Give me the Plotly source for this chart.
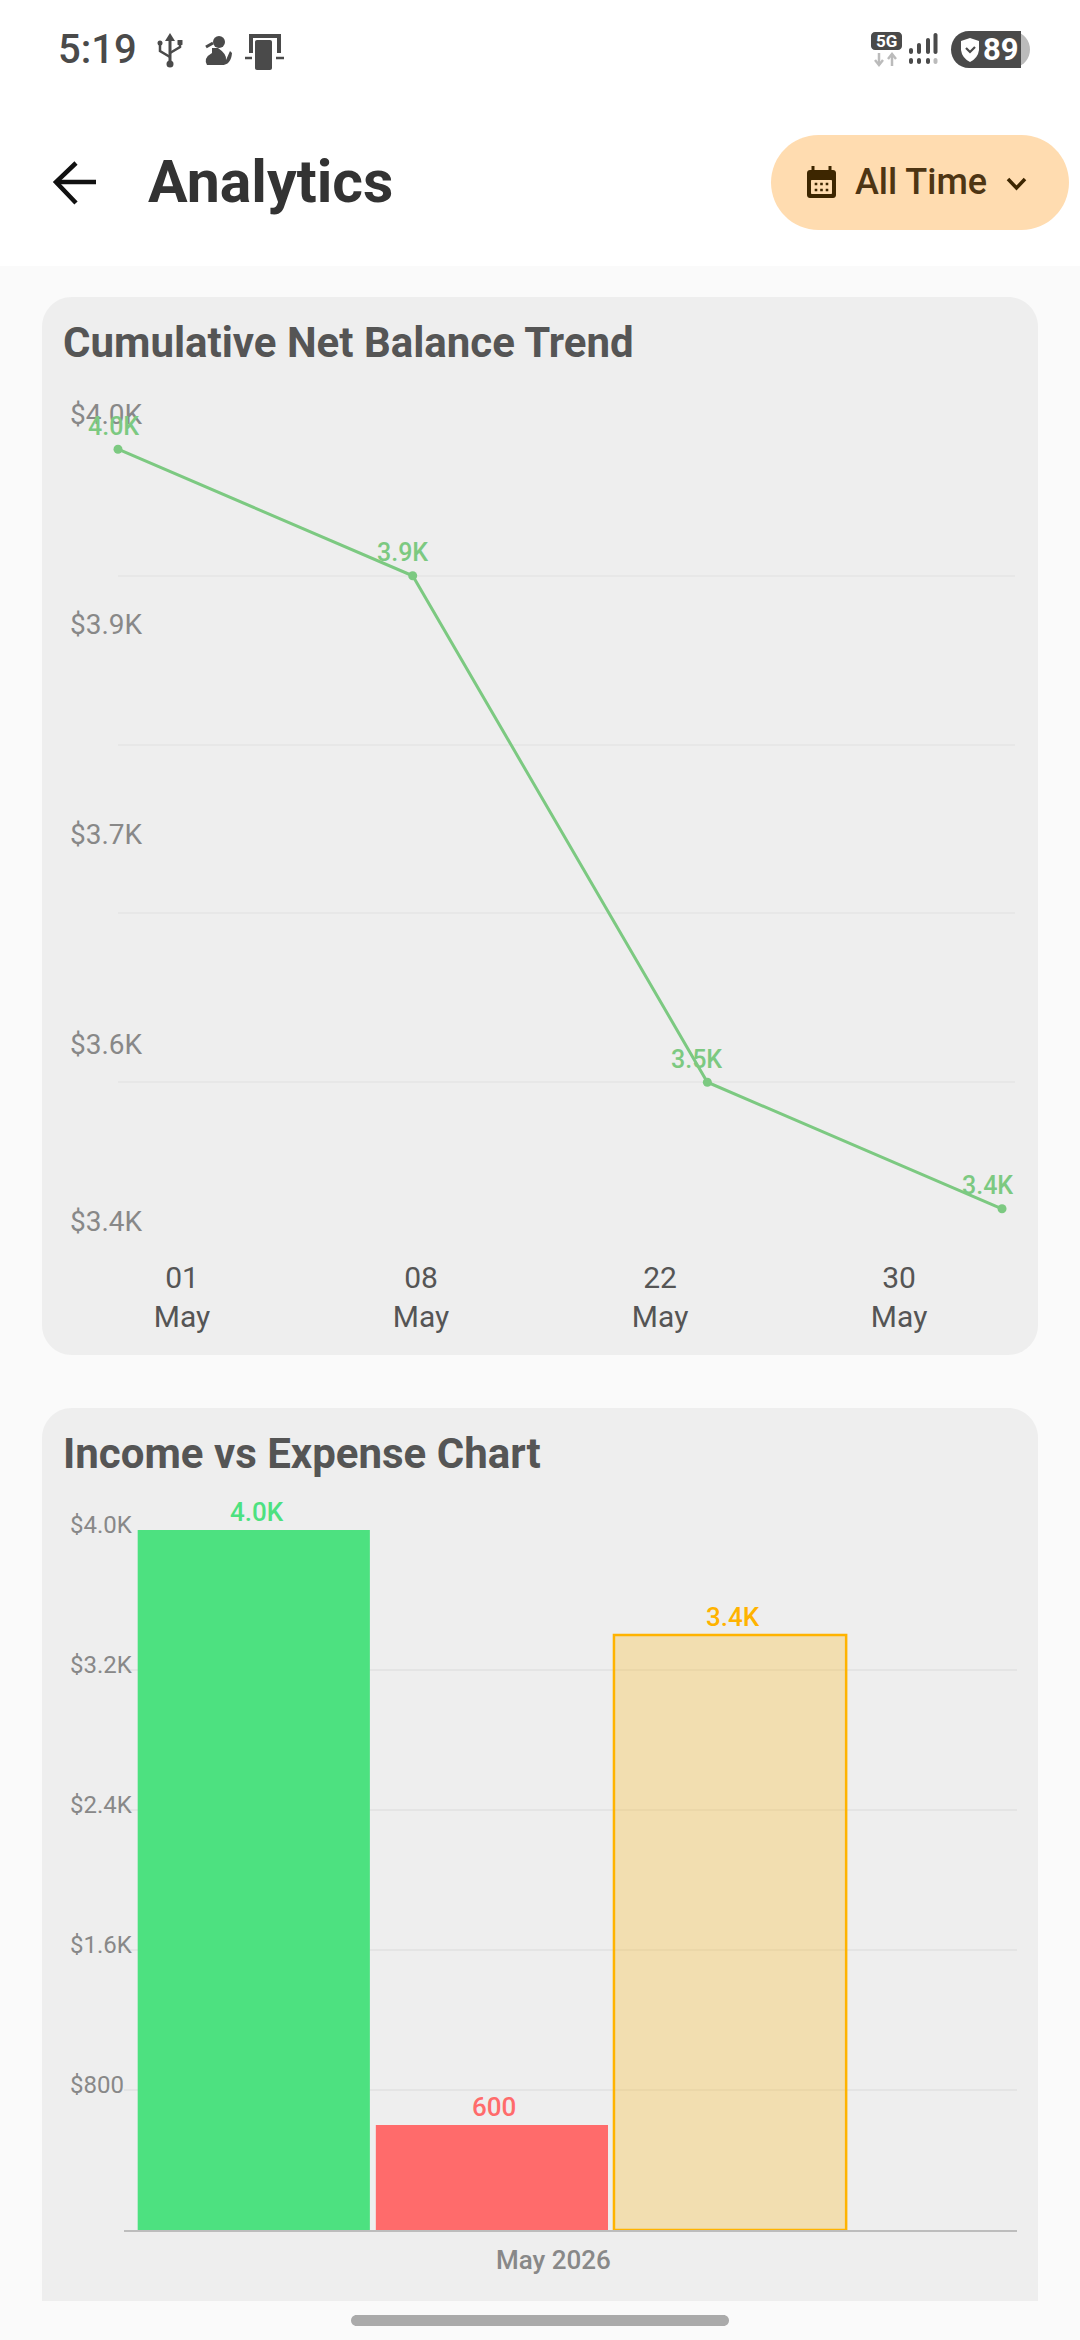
import plotly.graph_objects as go

W, H = 1080, 2340

# Cumulative balance series
TREND_DATES = ["01<br>May", "08<br>May", "22<br>May", "30<br>May"]
TREND_VALUES = [4000, 3900, 3500, 3400]
TREND_LABELS = ["4.0K", "3.9K", "3.5K", "3.4K"]
TREND_GRID = [3900, 3766.67, 3633.33, 3500]
TREND_TICK_TEXT = ["$4.0K", "$3.9K", "$3.7K", "$3.6K", "$3.4K"]
TREND_TICK_SPOTS = [4027.6, 3861.8, 3696, 3530, 3390]

# Income / expense series
MONTHS = ["May 2026"]
INCOME = [4000]
EXPENSE = [600]
NET = [3400]
BAR_TICKS = [0, 800, 1600, 2400, 3200, 4000]
BAR_TICK_TEXT = ["", "$800", "$1.6K", "$2.4K", "$3.2K", "$4.0K"]
BAR_SERIES = [
    ("Income", INCOME, "4.0K", "#4de180", "#4de180", 0, "#4de180", -235),
    ("Expense", EXPENSE, "600", "#ff6b6b", "#ff6b6b", 0, "#ff6b6b", 2),
    ("Balance", NET, "3.4K", "rgba(255,179,0,0.26)", "#ffb300", 2.5, "#ffb300", 241),
]

FONT = "Roboto"
DARK = "#4a4a4a"
BROWN = "#3d2600"
KAPPA = 0.5523


def px(x):
    return x / W


def py(y):
    return 1 - y / H


def path(points_cmds):
    """Build an SVG path in paper units from (cmd, x, y, ...) tuples given in page pixels."""
    out = []
    for item in points_cmds:
        cmd, vals = item[0], item[1:]
        coords = []
        for i in range(0, len(vals), 2):
            coords.append(f"{px(vals[i]):.5f},{py(vals[i + 1]):.5f}")
        out.append(cmd + " ".join(coords))
    return " ".join(out)


def rrect(x0, y0, x1, y1, r, fill, bottom=True):
    rb = r if bottom else 0
    c = r * (1 - KAPPA)
    cb = rb * (1 - KAPPA)
    d = path([
        ("M", x0 + r, y0), ("L", x1 - r, y0), ("C", x1 - c, y0, x1, y0 + c, x1, y0 + r),
        ("L", x1, y1 - rb), ("C", x1, y1 - cb, x1 - cb, y1, x1 - rb, y1),
        ("L", x0 + rb, y1), ("C", x0 + cb, y1, x0, y1 - cb, x0, y1 - rb),
        ("L", x0, y0 + r), ("C", x0, y0 + c, x0 + c, y0, x0 + r, y0),
    ]) + " Z"
    return dict(type="path", xref="paper", yref="paper", path=d, fillcolor=fill,
                line=dict(width=0), layer="below")


def stroke(points, color, width):
    cmds = [("M",) + points[0]] + [("L",) + p for p in points[1:]]
    return dict(type="path", xref="paper", yref="paper", path=path(cmds),
                line=dict(color=color, width=width), layer="below")


def dot(cx, cy, r, fill):
    return dict(type="circle", xref="paper", yref="paper",
                x0=px(cx - r), x1=px(cx + r), y0=py(cy + r), y1=py(cy - r),
                fillcolor=fill, line=dict(width=0), layer="below")


def blob(cmds, fill):
    return dict(type="path", xref="paper", yref="paper", path=path(cmds) + " Z",
                fillcolor=fill, line=dict(width=0), layer="below")


def label(x, y, text, size, color, weight=400, anchor="left"):
    return dict(xref="paper", yref="paper", x=px(x), y=py(y), text=text, showarrow=False,
                xanchor=anchor, yanchor="middle", align=anchor,
                font=dict(family=FONT, size=size, color=color, weight=weight))


shapes = [
    # page, header, cards
    dict(type="rect", xref="paper", yref="paper", x0=0, x1=1, y0=py(266), y1=1,
         fillcolor="#ffffff", line=dict(width=0), layer="below"),
    rrect(42, 297, 1038, 1355, 30, "#eeeeee"),
    rrect(42, 1408, 1038, 2301, 30, "#eeeeee", bottom=False),
    rrect(351, 2315, 729, 2326, 5.5, "#aaaaaa"),
    rrect(771, 135, 1069, 230, 47.5, "#ffdcb0"),
    # back arrow
    stroke([(96, 182), (56, 182)], "#111111", 4.5),
    stroke([(76, 163), (56, 182), (76, 203)], "#111111", 4.5),
    # calendar glyph
    rrect(807, 170, 836, 198, 3, BROWN),
    rrect(811, 180, 832, 194, 1, "#ffdcb0"),
    stroke([(813, 166), (813, 172)], BROWN, 3),
    stroke([(830, 166), (830, 172)], BROWN, 3),
    # dropdown chevron
    stroke([(1008, 179), (1016.5, 188), (1025, 179)], BROWN, 3.5),
    # USB glyph
    stroke([(170, 38), (170, 63)], DARK, 3),
    blob([("M", 170, 33), ("L", 175, 41), ("L", 165, 41)], DARK),
    dot(170, 64, 3.5, DARK),
    stroke([(170, 57), (160, 51), (160, 44)], DARK, 2.5),
    stroke([(170, 53), (180, 47), (180, 43)], DARK, 2.5),
    dot(160, 43, 2.5, DARK),
    rrect(177.5, 40, 182.5, 45, 0.5, DARK),
    # person glyph
    dot(219, 42, 6, DARK),
    blob([("M", 212, 48), ("L", 218, 48), ("Q", 227, 54, 226, 60), ("L", 230, 51), ("L", 232, 53),
          ("Q", 231, 66, 220, 65), ("L", 207, 65), ("Q", 203, 58, 212, 53)], DARK),
    stroke([(213, 43), (206, 47)], DARK, 3),
    # screen-share glyph
    blob([("M", 249, 34), ("L", 281, 34), ("L", 281, 53), ("L", 277, 53), ("L", 277, 38),
          ("L", 253, 38), ("L", 253, 53), ("L", 249, 53)], DARK),
    stroke([(245, 58), (252, 58)], DARK, 2.5),
    stroke([(276, 58), (284, 58)], DARK, 2.5),
    rrect(255, 40, 272, 70, 2, DARK),
    # mobile data badge
    rrect(871, 32, 902, 50, 4, DARK),
    stroke([(879, 53), (879, 65)], "#bbbbbb", 2.5),
    stroke([(875, 60), (879, 65), (883, 60)], "#bbbbbb", 2.5),
    stroke([(892, 66), (892, 54)], "#bbbbbb", 2.5),
    stroke([(888, 59), (892, 54), (896, 59)], "#bbbbbb", 2.5),
    # signal strength
    rrect(909, 48, 913, 54, 2, DARK),
    rrect(917, 43, 921, 54, 2, DARK),
    rrect(926, 38, 930, 54, 2, DARK),
    rrect(933.5, 33, 937.5, 54, 2, DARK),
    rrect(909, 58, 913, 64, 2, DARK),
    rrect(917, 58, 921, 64, 2, DARK),
    rrect(926, 58, 930, 64, 2, DARK),
    rrect(933.5, 58, 937.5, 64, 2, "#bbbbbb"),
    # battery pill
    rrect(990, 31, 1030, 68, 18.5, "#bbbbbb"),
    blob([("M", 969, 31), ("L", 1021, 31), ("L", 1021, 68), ("L", 969, 68),
          ("C", 959, 68, 951, 60, 951, 49.5), ("C", 951, 39, 959, 31, 969, 31)], DARK),
    blob([("M", 970, 38), ("L", 979, 41), ("L", 979, 50), ("Q", 978, 58, 970, 62),
          ("Q", 962, 58, 961, 50), ("L", 961, 41)], "#ffffff"),
    stroke([(966, 48), (970, 52), (975, 47)], DARK, 2.2),
]
# calendar date dots
for cy in (184, 190):
    for cx in (816, 821.5, 827):
        shapes.append(rrect(cx - 1.3, cy - 1.3, cx + 1.3, cy + 1.3, 0.3, BROWN))

annotations = [
    label(56, 49, "5:19", 40, DARK, 500),
    label(146, 182, "Analytics", 59, "#333333", 700),
    label(853, 182, "All Time", 36, "#4e3513", 500),
    label(886.5, 41, "5G", 17, "#ffffff", 700, "center"),
    label(1001, 49.5, "89", 31, "#ffffff", 700, "center"),
    label(61, 342, "Cumulative Net Balance Trend", 42, "#555555", 700),
    label(61, 1453, "Income vs Expense Chart", 42, "#555555", 700),
]

# Each value label sits a little to the left of its point
TREND_SHIFTS = [-5, -10, -11, -15]
for date, value, text, shift in zip(TREND_DATES, TREND_VALUES, TREND_LABELS, TREND_SHIFTS):
    annotations.append(dict(
        x=date, y=value, xref="x", yref="y", text=text, showarrow=False, xshift=shift, yshift=23,
        font=dict(family=FONT, size=25, color="#7cc981", weight=500),
    ))

# Bar value labels, placed from the same values as the bars
for name, values, text, fill, edge, edge_w, text_color, shift in BAR_SERIES:
    annotations.append(dict(
        x=MONTHS[0], y=values[0], xref="x3", yref="y3", text=text, showarrow=False,
        xshift=shift, yshift=1, yanchor="bottom",
        font=dict(family=FONT, size=26, color=text_color, weight=500),
    ))

fig = go.Figure()

# Trend line on the point axis
fig.add_trace(go.Scatter(
    x=TREND_DATES, y=TREND_VALUES, xaxis="x", yaxis="y", mode="lines+markers", cliponaxis=False,
    line=dict(color="#7cc981", width=3), marker=dict(color="#7cc981", size=9), showlegend=False,
))
# Invisible traces that keep the separately placed label axes on the page
fig.add_trace(go.Scatter(x=TREND_DATES, y=TREND_VALUES, xaxis="x2", yaxis="y", mode="lines",
                         opacity=0, showlegend=False, hoverinfo="skip"))
fig.add_trace(go.Scatter(x=TREND_DATES, y=TREND_VALUES, xaxis="x", yaxis="y2", mode="lines",
                         opacity=0, showlegend=False, hoverinfo="skip"))

for name, values, text, fill, edge, edge_w, text_color, shift in BAR_SERIES:
    fig.add_trace(go.Bar(
        x=MONTHS, y=values, name=name, xaxis="x3", yaxis="y3", cliponaxis=False,
        marker=dict(color=fill, line=dict(color=edge, width=edge_w)), showlegend=False,
    ))
fig.add_trace(go.Scatter(x=MONTHS, y=INCOME, xaxis="x4", yaxis="y3", mode="lines",
                         opacity=0, showlegend=False, hoverinfo="skip"))
fig.add_trace(go.Scatter(x=MONTHS, y=INCOME, xaxis="x3", yaxis="y4", mode="lines",
                         opacity=0, showlegend=False, hoverinfo="skip"))

TREND_RANGE = [3366.67, 4033.33]
BAR_RANGE = [0, 4000]
hidden = dict(showgrid=False, zeroline=False, showticklabels=False, ticks="", showline=False)

# The tick-label axes reach past their charts so the outermost labels stay visible
TREND_LABEL_RANGE = [3335.1, 4064.9]
BAR_LABEL_RANGE = [-228.6, 4228.6]

fig.update_layout(
    width=W, height=H, autosize=False,
    margin=dict(l=0, r=0, t=0, b=0), paper_bgcolor="#fafafa", plot_bgcolor="rgba(0,0,0,0)",
    font=dict(family=FONT), shapes=shapes, annotations=annotations,
    barmode="group", bargap=0, bargroupgap=0.025,
    xaxis=dict(domain=[px(118), px(1015)], type="category", categoryorder="array",
               categoryarray=TREND_DATES, range=[0, 3.044], anchor="y", **hidden),
    xaxis2=dict(overlaying="x", type="category", categoryorder="array",
                categoryarray=TREND_DATES, range=[-0.268, 3.485], anchor="y", showgrid=False,
                zeroline=False, showline=False, ticks="", ticklen=0, ticklabelstandoff=6,
                side="bottom", tickfont=dict(family=FONT, size=30, color="#555555")),
    yaxis=dict(domain=[py(1251), py(407)], range=TREND_RANGE, anchor="x", tickmode="array",
               tickvals=TREND_GRID, showticklabels=False, ticks="", zeroline=False,
               showline=False, showgrid=True, gridcolor="#e7e7e7", gridwidth=2),
    yaxis2=dict(domain=[py(1291), py(367)], anchor="free", position=px(66), side="left",
                range=TREND_LABEL_RANGE, tickmode="array", tickvals=TREND_TICK_SPOTS,
                ticktext=TREND_TICK_TEXT, ticklabelposition="inside", showgrid=False,
                zeroline=False, showline=False, ticks="",
                tickfont=dict(family=FONT, size=28, color="#888888")),
    xaxis3=dict(domain=[px(124), px(1017)], type="category", range=[-0.515, 0.735], anchor="y3",
                showgrid=False, zeroline=False, showticklabels=False, ticks="",
                showline=True, linecolor="#bdbdbd", linewidth=2, layer="below traces"),
    xaxis4=dict(overlaying="x3", type="category", range=[-0.5, 0.54], anchor="y3", side="bottom",
                showgrid=False, zeroline=False, showline=False, ticks="", ticklen=0,
                ticklabelstandoff=12, tickfont=dict(family=FONT, size=26, color="#888888", weight=500)),
    yaxis3=dict(domain=[py(2230), py(1530)], range=BAR_RANGE, anchor="x3", tickmode="array",
                tickvals=BAR_TICKS, showticklabels=False, ticks="", zeroline=False,
                showline=False, showgrid=True, gridcolor="#e4e4e4", gridwidth=2),
    yaxis4=dict(domain=[py(2270), py(1490)], anchor="free", position=px(66), side="left",
                range=BAR_LABEL_RANGE, tickmode="array", tickvals=BAR_TICKS,
                ticktext=BAR_TICK_TEXT, ticklabelposition="inside", ticklabelshift=-5,
                showgrid=False, zeroline=False, showline=False, ticks="",
                tickfont=dict(family=FONT, size=24, color="#888888")),
)

fig.write_html("out.html", config=dict(displayModeBar=False))
